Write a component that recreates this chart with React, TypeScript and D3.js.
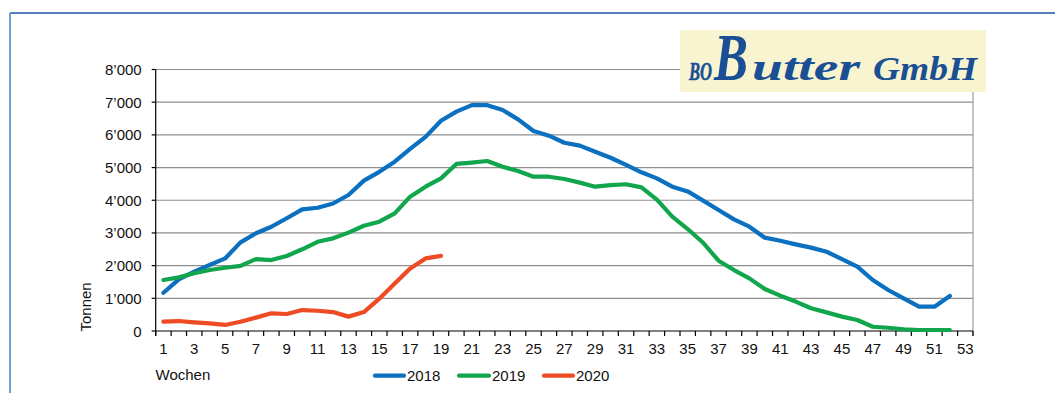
import React from "react";
import * as d3 from "d3";

const weeks: number[] = Array.from({ length: 52 }, (_, i) => i + 1);
const series2018: number[] = [
  1170, 1580, 1815, 2020, 2220, 2710, 2990, 3190, 3450, 3720,
  3770, 3900, 4160, 4600, 4870, 5180, 5570, 5940, 6430, 6710,
  6910, 6910, 6760, 6475, 6120, 5975, 5760, 5670, 5485, 5300,
  5080, 4855, 4670, 4415, 4270, 3990, 3700, 3415, 3190, 2855,
  2760, 2650, 2550, 2425, 2200, 1970, 1560, 1255, 1000, 745,
  745, 1070,
];
const series2019: number[] = [
  1560, 1640, 1765, 1865, 1935, 1990, 2200, 2170, 2295, 2500,
  2730, 2835, 3010, 3220, 3345, 3600, 4110, 4415, 4670, 5110,
  5150, 5200, 5025, 4895, 4720, 4720, 4650, 4540, 4415, 4465,
  4490, 4395, 4020, 3500, 3120, 2700, 2150, 1865, 1610, 1285,
  1080, 900, 695, 570, 440, 335, 130, 100, 50, 30,
  30, 30,
];
const series2020: number[] = [
  285, 305, 265, 235, 185, 285, 410, 540, 520, 640,
  620, 580, 440, 580, 990, 1450, 1915, 2220, 2300,
];
const seriesNames: string[] = ["2018", "2019", "2020"];
const seriesColors: string[] = ["#0b70bf", "#11a64b", "#ee4b24"];
const yTicks: number[] = [0, 1000, 2000, 3000, 4000, 5000, 6000, 7000, 8000];
const xLabels: number[] = d3.range(1, 54, 2);

const W = 1055;
const H = 393;
const left = 155.7;
const right = 973;
const top = 69.5;
const bottom = 331;

export default function App() {
  const x = d3.scaleLinear().domain([0.5, 53.5]).range([left, right]);
  const y = d3.scaleLinear().domain([0, 8000]).range([bottom, top]);
  const fmt = (v: number) => {
    if (v === 0) return "0";
    const s = String(v);
    return s.slice(0, s.length - 3) + "\u2019" + s.slice(s.length - 3);
  };
  const line = d3
    .line<number>()
    .x((_, i) => x(weeks[i]))
    .y((d) => y(d));
  const allSeries = [series2018, series2019, series2020];
  const boundaries = d3.range(0.5, 54, 1);
  const font = "'Liberation Sans', Arial, sans-serif";
  const legendItems = [
    { x1: 375, x2: 404, tx: 407 },
    { x1: 459, x2: 489, tx: 492 },
    { x1: 544, x2: 573, tx: 576 },
  ];
  return (
    <svg
      width={W}
      height={H}
      style={{ position: "absolute", left: 0, top: 0, background: "#fff" }}
      fontFamily={font}
    >
      {/* frame */}
      <line x1={10} x2={W} y1={13} y2={13} stroke="#1d56a3" strokeWidth={1.5} />
      <line x1={10} x2={10} y1={13} y2={H} stroke="#6aa0dc" strokeWidth={2} />

      {/* gridlines */}
      {yTicks.slice(1).map((t) => (
        <line
          key={"g" + t}
          x1={left}
          x2={right}
          y1={y(t)}
          y2={y(t)}
          stroke="#8f8f8f"
          strokeWidth={1.2}
        />
      ))}
      <line x1={right} x2={right} y1={top} y2={bottom + 5} stroke="#9a9a9a" strokeWidth={1.2} />

      {/* axes */}
      <line x1={left} x2={left} y1={top} y2={bottom + 5} stroke="#000" strokeWidth={1.2} />
      <line x1={left} x2={right} y1={bottom} y2={bottom} stroke="#000" strokeWidth={1.2} />
      {yTicks.map((t) => (
        <g key={"y" + t}>
          <line x1={left - 4} x2={left} y1={y(t)} y2={y(t)} stroke="#000" strokeWidth={1.2} />
          <text x={left - 14} y={y(t) + 5.5} textAnchor="end" fontSize={15} fill="#111">
            {fmt(t)}
          </text>
        </g>
      ))}
      {boundaries.map((b) => (
        <line
          key={"b" + b}
          x1={x(b)}
          x2={x(b)}
          y1={bottom}
          y2={bottom + 5}
          stroke="#000"
          strokeWidth={1.2}
        />
      ))}
      {xLabels.map((l) => (
        <text key={"x" + l} x={x(l)} y={354} textAnchor="middle" fontSize={15} fill="#111">
          {l}
        </text>
      ))}

      <text
        transform={`translate(90.5,331.5) rotate(-90)`}
        textAnchor="start"
        fontSize={15}
        fill="#111"
      >
        Tonnen
      </text>
      <text x={155.5} y={380} fontSize={15} fill="#111">
        Wochen
      </text>

      {/* series */}
      {allSeries.map((s, i) => (
        <path
          key={"s" + i}
          d={line(s) || ""}
          fill="none"
          stroke={seriesColors[i]}
          strokeWidth={4.2}
          strokeLinejoin="round"
          strokeLinecap="round"
        />
      ))}

      {/* legend */}
      {seriesNames.map((n, i) => (
        <g key={"l" + n}>
          <line
            x1={legendItems[i].x1}
            x2={legendItems[i].x2}
            y1={375.7}
            y2={375.7}
            stroke={seriesColors[i]}
            strokeWidth={4.2}
            strokeLinecap="round"
          />
          <text x={legendItems[i].tx} y={380.7} fontSize={15} fill="#111">
            {n}
          </text>
        </g>
      ))}

      {/* logo */}
      <rect x={680} y={30} width={306} height={62} fill="#f8f4d0" />
      <text
        y={80}
        fontFamily="'Liberation Serif', 'Times New Roman', serif"
        fontWeight="bold"
        fontStyle="italic"
        fill="#1a4f94"
      >
        <tspan x={689} fontSize={26} textLength={23} lengthAdjust="spacingAndGlyphs" stroke="#1a4f94" strokeWidth={0.5}>
          BO
        </tspan>
        <tspan x={714} fontSize={68} textLength={34} lengthAdjust="spacingAndGlyphs">
          B
        </tspan>
        <tspan x={752} fontSize={38} textLength={108} lengthAdjust="spacingAndGlyphs">
          utter
        </tspan>
        <tspan x={873} fontSize={33} textLength={104} lengthAdjust="spacingAndGlyphs">
          GmbH
        </tspan>
      </text>
    </svg>
  );
}
